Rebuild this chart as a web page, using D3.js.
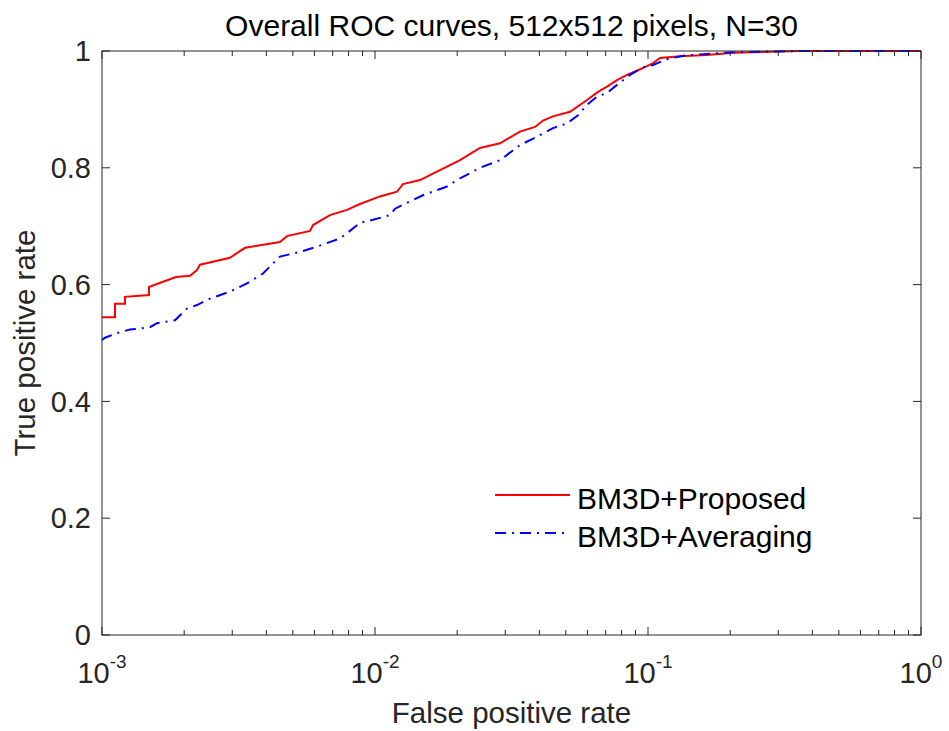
<!DOCTYPE html>
<html>
<head>
<meta charset="utf-8">
<script src="https://cdn.jsdelivr.net/npm/d3@7"></script>
<style>
  body { margin: 0; background: #fff; }
  text { font-family: "Liberation Sans", Arial, sans-serif; fill: #262626; }
</style>
</head>
<body>
<div id="chart"></div>
<script>
// ROC data (false positive rate, true positive rate)
var proposedFpr = [0.001, 0.001116, 0.001116, 0.001214, 0.001214, 0.001486, 0.001486, 0.00159, 0.001867, 0.002101, 0.002228, 0.002285,
  0.002943, 0.003341, 0.004487, 0.00476, 0.00578, 0.00593, 0.00684, 0.0079, 0.00881, 0.01043, 0.01204, 0.01266, 0.01462,
  0.0173, 0.02048, 0.02424, 0.02871, 0.03397, 0.03856, 0.04125, 0.04487, 0.0518, 0.0598, 0.0656, 0.0708, 0.077, 0.0838,
  0.0919, 0.0992, 0.1043, 0.1107, 0.131, 0.1645, 0.2048, 0.3604, 1];
var proposedTpr = [0.544, 0.544, 0.567, 0.567, 0.579, 0.582, 0.596, 0.601, 0.613, 0.615, 0.625, 0.634,
  0.646, 0.663, 0.673, 0.683, 0.692, 0.702, 0.719, 0.728, 0.738, 0.751, 0.759, 0.772, 0.779,
  0.796, 0.813, 0.834, 0.842, 0.862, 0.870, 0.881, 0.888, 0.896, 0.916, 0.930, 0.939, 0.950, 0.959,
  0.967, 0.974, 0.979, 0.988, 0.991, 0.993, 0.997, 1.0, 1.0];

var averagingFpr = [0.001, 0.001026, 0.001135, 0.001266, 0.001499, 0.00159, 0.001851, 0.002048, 0.002228, 0.002487, 0.002943,
  0.003397, 0.003888, 0.004487, 0.00531, 0.00613, 0.00744, 0.0079, 0.00881, 0.00983, 0.01135, 0.01184, 0.01378, 0.01499,
  0.01835, 0.01997, 0.02424, 0.02871, 0.03397, 0.03922, 0.04487, 0.0505, 0.0554, 0.0598, 0.0651, 0.0708, 0.077, 0.0859,
  0.0958, 0.1043, 0.1174, 0.1351, 0.1645, 0.2048, 0.3604, 1];
var averagingTpr = [0.505, 0.509, 0.517, 0.523, 0.527, 0.534, 0.539, 0.559, 0.565, 0.576, 0.588,
  0.602, 0.619, 0.648, 0.656, 0.665, 0.679, 0.688, 0.706, 0.711, 0.719, 0.730, 0.745, 0.753,
  0.768, 0.779, 0.800, 0.813, 0.839, 0.853, 0.868, 0.876, 0.890, 0.908, 0.922, 0.928, 0.942, 0.959,
  0.972, 0.976, 0.986, 0.992, 0.995, 0.998, 1.0, 1.0];

var seriesNames = ["BM3D+Proposed", "BM3D+Averaging"];
var yTicks = [0, 0.2, 0.4, 0.6, 0.8, 1];
var xTicks = [0.001, 0.01, 0.1, 1];
var xTickExp = ["-3", "-2", "-1", "0"];

var svgWidth = 949;
var svgHeight = 731;
var margin = { top: 51, right: 28, bottom: 96, left: 102 };
var width = svgWidth - margin.left - margin.right;
var height = svgHeight - margin.top - margin.bottom;

var svg = d3.select("#chart").append("svg")
  .attr("width", svgWidth)
  .attr("height", svgHeight);

var chartGroup = svg.append("g")
  .attr("transform", `translate(${margin.left}, ${margin.top})`);

var xScale = d3.scaleLog().domain([0.001, 1]).range([0, width]);
var yScale = d3.scaleLinear().domain([0, 1]).range([height, 0]);

var axisColor = "#262626";
var dashDot = "11,6,2,6";

// minor ticks 2..9 in each decade
var minorTicks = [];
[0.001, 0.01, 0.1].forEach(function(d) {
  for (var k = 2; k <= 9; k++) minorTicks.push(d * k);
});

// bottom & top ticks (inward)
[[height, -1], [0, 1]].forEach(function(p) {
  chartGroup.selectAll(null).data(xTicks).enter().append("line")
    .attr("x1", d => xScale(d)).attr("x2", d => xScale(d))
    .attr("y1", p[0]).attr("y2", p[0] + p[1] * 8)
    .attr("stroke", axisColor).attr("stroke-width", 1);
  chartGroup.selectAll(null).data(minorTicks).enter().append("line")
    .attr("x1", d => xScale(d)).attr("x2", d => xScale(d))
    .attr("y1", p[0]).attr("y2", p[0] + p[1] * 5)
    .attr("stroke", axisColor).attr("stroke-width", 1);
});

// left & right ticks
[[0, 1], [width, -1]].forEach(function(p) {
  chartGroup.selectAll(null).data(yTicks).enter().append("line")
    .attr("x1", p[0]).attr("x2", p[0] + p[1] * 8)
    .attr("y1", d => yScale(d)).attr("y2", d => yScale(d))
    .attr("stroke", axisColor).attr("stroke-width", 1);
});

// y tick labels
chartGroup.selectAll(null).data(yTicks).enter().append("text")
  .attr("x", -11)
  .attr("y", d => yScale(d))
  .attr("dy", "0.35em")
  .attr("text-anchor", "end")
  .style("font-size", "29px")
  .text(d => d);

// x tick labels 10^n
var xLab = chartGroup.selectAll(null).data(xTicks).enter().append("text")
  .attr("x", d => xScale(d))
  .attr("y", height + 48)
  .attr("text-anchor", "middle")
  .style("font-size", "29px");
xLab.append("tspan").text("10");
xLab.append("tspan")
  .attr("dy", "-15")
  .style("font-size", "19px")
  .text((d, i) => xTickExp[i]);

// curves
var line = d3.line()
  .x(d => xScale(d[0]))
  .y(d => yScale(d[1]));

var proposed = d3.zip(proposedFpr, proposedTpr);
var averaging = d3.zip(averagingFpr, averagingTpr);

chartGroup.append("path")
  .datum(proposed)
  .attr("d", line)
  .attr("fill", "none")
  .attr("stroke", "#ff0000")
  .attr("stroke-width", 2);

chartGroup.append("path")
  .datum(averaging)
  .attr("d", line)
  .attr("fill", "none")
  .attr("stroke", "#0000ff")
  .attr("stroke-width", 2)
  .attr("stroke-dasharray", dashDot);

// box
chartGroup.append("rect")
  .attr("width", width)
  .attr("height", height)
  .attr("fill", "none")
  .attr("stroke", axisColor)
  .attr("stroke-width", 1);

// legend
var legend = chartGroup.append("g")
  .attr("transform", `translate(${495 - margin.left}, ${495 - margin.top})`);
var legendStyle = [
  { color: "#ff0000", dash: null },
  { color: "#0000ff", dash: dashDot }
];
seriesNames.forEach(function(name, i) {
  legend.append("line")
    .attr("x1", 0).attr("x2", 75)
    .attr("y1", i * 38).attr("y2", i * 38)
    .attr("stroke", legendStyle[i].color)
    .attr("stroke-width", 2)
    .attr("stroke-dasharray", legendStyle[i].dash);
  legend.append("text")
    .attr("x", 82)
    .attr("y", i * 38 + 14)
    .style("font-size", "30px")
    .style("fill", "#000")
    .text(name);
});

// title and axis labels
svg.append("text")
  .attr("x", margin.left + width / 2)
  .attr("y", 36)
  .attr("text-anchor", "middle")
  .style("font-size", "30px")
  .style("fill", "#000")
  .text("Overall ROC curves, 512x512 pixels, N=30");

svg.append("text")
  .attr("x", margin.left + width / 2)
  .attr("y", 723)
  .attr("text-anchor", "middle")
  .style("font-size", "29.5px")
  .text("False positive rate");

svg.append("text")
  .attr("transform", `translate(35, ${margin.top + height / 2}) rotate(-90)`)
  .attr("text-anchor", "middle")
  .style("font-size", "29.5px")
  .text("True positive rate");
</script>
</body>
</html>
